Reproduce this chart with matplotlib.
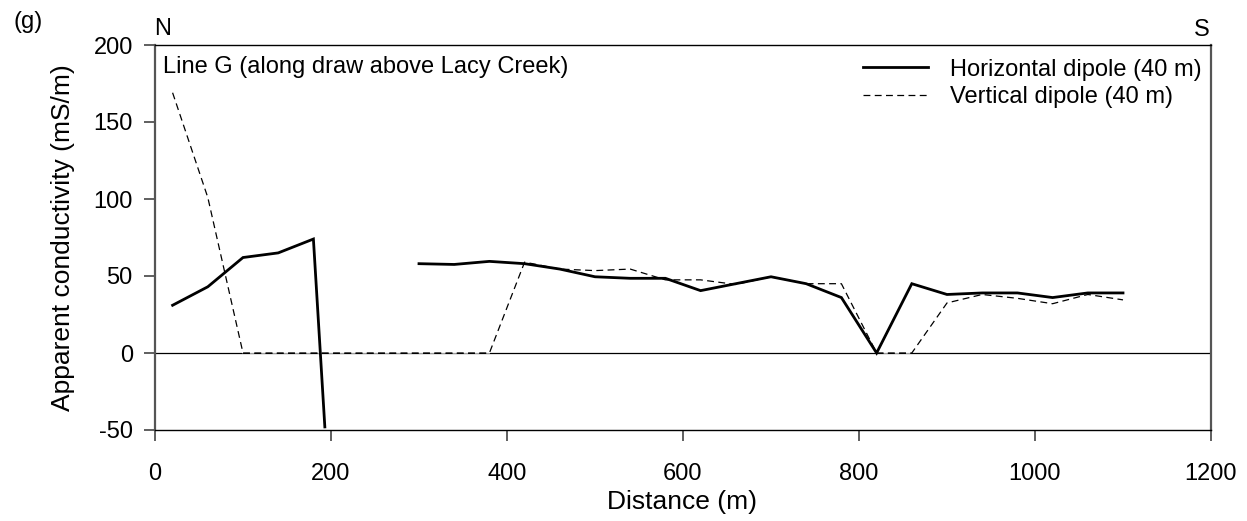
import matplotlib
matplotlib.use("Agg")
import matplotlib.pyplot as plt
import numpy as np

plt.rcParams['font.family'] = ['Liberation Sans', 'DejaVu Sans']
plt.rcParams['axes.unicode_minus'] = False

# Horizontal dipole (solid) - two segments separated by a gap
h_dist_1 = [20, 60, 100, 140, 180, 193]
h_cond_1 = [31, 43, 62, 65, 74, -48]
h_dist_2 = [300, 340, 380, 420, 460, 500, 540, 580, 620, 660, 700, 740, 780,
            820, 860, 900, 940, 980, 1020, 1060, 1100]
h_cond_2 = [58, 57.5, 59.5, 58, 54.5, 49.5, 48.5, 48.5, 40.5, 45, 49.5, 45, 36,
            0, 45, 38, 39, 39, 36, 39, 39]

# Vertical dipole (dashed)
v_dist = [20, 60, 100, 140, 180, 220, 260, 300, 340, 380, 420, 460, 500, 540,
          580, 620, 660, 700, 740, 780, 820, 860, 900, 940, 980, 1020, 1060, 1100]
v_cond = [169, 101, 0, 0, 0, 0, 0, 0, 0, 0, 59, 54.5, 53.5, 54.5,
          47.5, 47.5, 44.5, 49.5, 45, 45, 0, 0, 32.5, 38, 35.5, 32, 38, 34.5]

x_ticks = [0, 200, 400, 600, 800, 1000, 1200]
y_ticks = [-50, 0, 50, 100, 150, 200]

W, H = 1247, 521
fig = plt.figure(figsize=(W/100, H/100), dpi=100)
ax = fig.add_axes([155/W, 1-430/H, (1211-155)/W, (430-45)/H])

ax.axhline(0, color='black', lw=0.9, zorder=1)
ln_v, = ax.plot(v_dist, v_cond, color='black', lw=0.9, zorder=2,
                label='Vertical dipole (40 m)')
ln_v.set_dashes((5.5, 3.5))
ln_v.set_gapcolor('white')
ax.plot(h_dist_1, h_cond_1, color='black', lw=2.0, zorder=3,
        label='Horizontal dipole (40 m)', solid_joinstyle='miter')
ax.plot(h_dist_2, h_cond_2, color='black', lw=2.0, zorder=3,
        solid_joinstyle='miter')

ax.set_xlim(0, 1200)
ax.set_ylim(-50, 200)
ax.set_xticks(x_ticks)
ax.set_yticks(y_ticks)
ax.tick_params(axis='both', labelsize=17, direction='out', length=8,
               width=1.2, color='#444444')
ax.tick_params(axis='x', pad=16)
ax.tick_params(axis='y', pad=8)

for side in ['left', 'right']:
    ax.spines[side].set_color('#555555')
    ax.spines[side].set_linewidth(1.6)
for side in ['top', 'bottom']:
    ax.spines[side].set_color('black')
    ax.spines[side].set_linewidth(1.0)

fig.text(682/W, 1-502/H, 'Distance (m)', fontsize=19, ha='center', va='center')
fig.text(63/W, 1-238/H, 'Apparent conductivity (mS/m)', fontsize=19,
         ha='center', va='center', rotation=90)

ax.text(8/1056, 1-22/385, 'Line G (along draw above Lacy Creek)',
        transform=ax.transAxes, fontsize=17, ha='left', va='center')

handles, labels = ax.get_legend_handles_labels()
order = [1, 0]
leg = ax.legend([handles[i] for i in order], [labels[i] for i in order],
                loc='upper right', bbox_to_anchor=(1.0 + 8/1056, 1.0 + 4/385),
                frameon=False,
                fontsize=17, handlelength=2.75, handletextpad=0.9,
                labelspacing=0.24, borderaxespad=0.35)

fig.text(28/W, 1-22/H, '(g)', fontsize=17, ha='center', va='center')
fig.text(163/W, 1-29/H, 'N', fontsize=17, ha='center', va='center')
fig.text(1202/W, 1-30/H, 'S', fontsize=17, ha='center', va='center')

fig.savefig('out.png', dpi=100)
